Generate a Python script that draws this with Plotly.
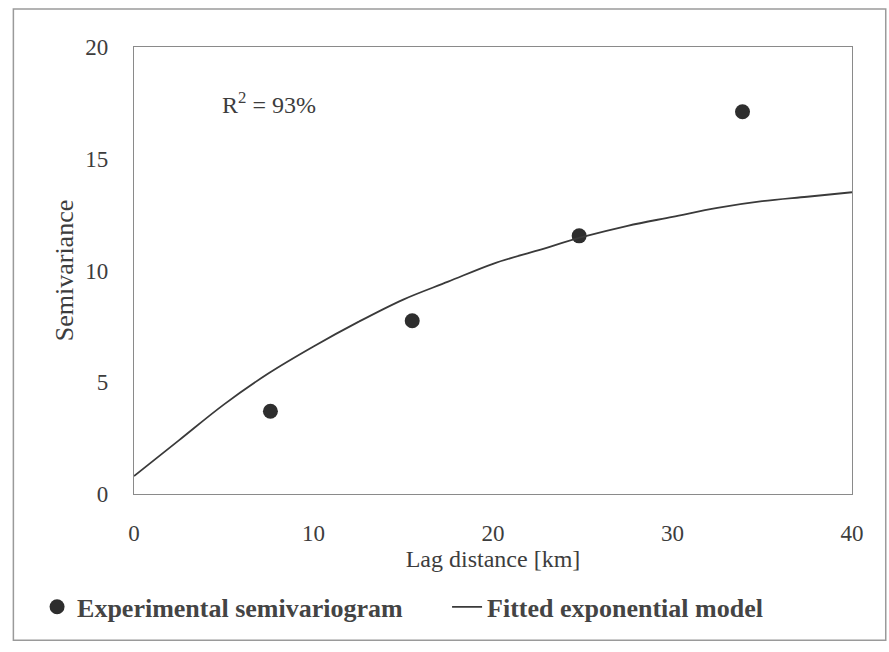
import plotly.graph_objects as go

# Experimental semivariogram points
lag_pts = [7.6, 15.5, 24.8, 33.9]
semiv_pts = [3.7, 7.75, 11.55, 17.1]

# Fitted exponential model curve
lag_fit = [0, 2.5, 5, 7.5, 10, 12.5, 15, 17.5, 20, 22.5, 25, 27.5, 30, 32.5, 35, 37.5, 40]
semiv_fit = [0.8, 2.4, 4.0, 5.4, 6.6, 7.7, 8.7, 9.5, 10.3, 10.9, 11.5, 12.0, 12.4, 12.8, 13.1, 13.3, 13.5]

x_ticks = [0, 10, 20, 30, 40]
y_ticks = [0, 5, 10, 15, 20]

FONT = "Liberation Serif"
TXT = "#3d3d3d"

fig = go.Figure()
fig.add_trace(go.Scatter(
    x=lag_pts, y=semiv_pts, mode="markers", name="Experimental semivariogram",
    marker=dict(size=15, color="#2e2e2e", symbol="circle"),
))
fig.add_trace(go.Scatter(
    x=lag_fit, y=semiv_fit, mode="lines", name="Fitted exponential model",
    line=dict(color="#3a3a3a", width=1.8, shape="spline"),
))

fig.update_layout(
    width=889, height=652,
    margin=dict(l=134, r=37, t=47, b=158),
    paper_bgcolor="white", plot_bgcolor="white",
    font=dict(family=FONT, size=20, color=TXT),
    showlegend=True,
    legend=dict(orientation="h", x=-0.135, y=-0.2, xanchor="left", yanchor="top",
                font=dict(family=FONT, size=26, color="#444444", weight="bold"),
                itemwidth=30, entrywidth=365, bgcolor="rgba(0,0,0,0)"),
    xaxis=dict(range=[0, 40], tickvals=x_ticks, showgrid=False, zeroline=False,
               showline=True, linecolor="#8a8a8a", linewidth=1.2, mirror=True,
               ticks="", ticklabelstandoff=18,
               tickfont=dict(family=FONT, size=23, color=TXT),
               title=dict(text="Lag distance [km]", standoff=4,
                          font=dict(family=FONT, size=24, color=TXT))),
    yaxis=dict(range=[0, 20], tickvals=y_ticks, showgrid=False, zeroline=False,
               showline=True, linecolor="#8a8a8a", linewidth=1.2, mirror=True,
               ticks="", ticklabelstandoff=20,
               tickfont=dict(family=FONT, size=23, color=TXT),
               title=dict(text="Semivariance", standoff=4,
                          font=dict(family=FONT, size=26, color=TXT))),
    annotations=[dict(text="R<sup>2</sup> = 93%", x=4.8, y=17.5, xref="x", yref="y",
                      showarrow=False, xanchor="left",
                      font=dict(family=FONT, size=24, color=TXT))],
    shapes=[dict(type="rect", xref="paper", yref="paper",
                 x0=-0.168, x1=1.047, y0=-0.327, y1=1.085,
                 line=dict(color="#9a9a9a", width=1.5))],
)

fig.write_html("out.html")
